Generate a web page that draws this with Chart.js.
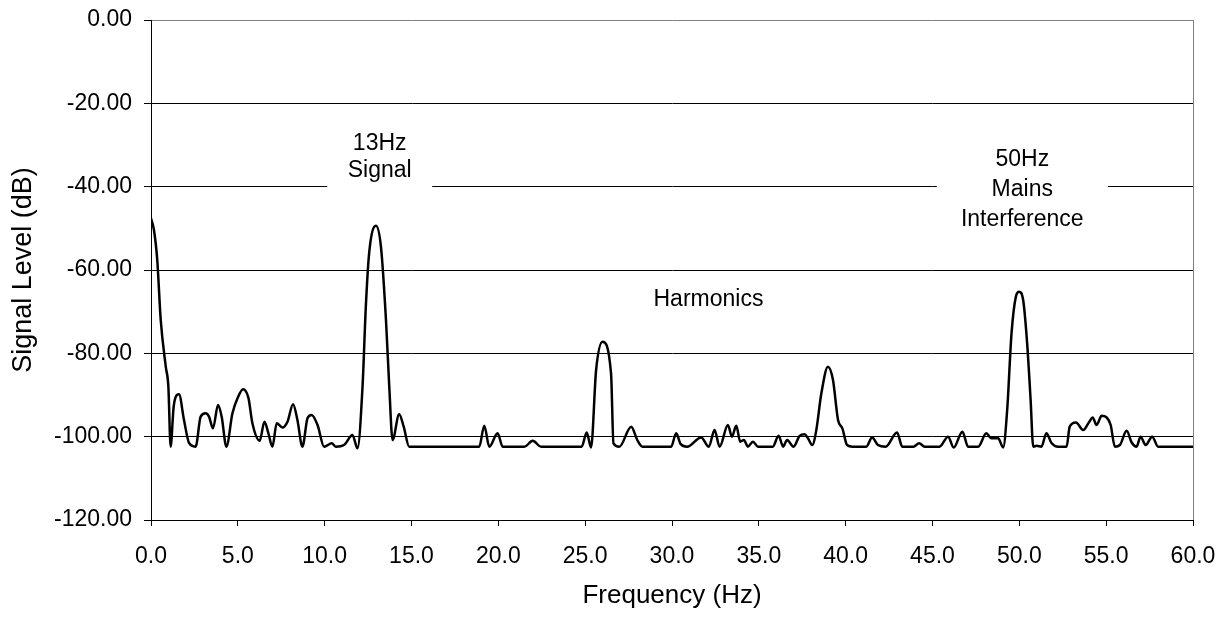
<!DOCTYPE html>
<html>
<head>
<meta charset="utf-8">
<script src="https://cdn.jsdelivr.net/npm/chart.js@4.4.0/dist/chart.umd.min.js"></script>
<style>
    body { margin: 0; background: #fff; }
    #container-grafico { width: 1231px; height: 619px; }
</style>
</head>
<body>
<div id="container-grafico"><canvas id="espectro" width="1231" height="619"></canvas></div>
<script>
// valores (Hz / dB)
var frequencias = [
    0.00, 0.17, 0.36, 0.56, 0.85, 1.00, 1.13, 1.30, 1.45, 1.61, 1.90, 2.19, 2.57, 2.86, 3.15, 3.34,
    3.57, 3.86, 4.07, 4.34, 4.69, 4.98, 5.30, 5.61, 5.84, 6.26, 6.53, 6.76, 6.99, 7.24, 7.57, 7.86,
    8.18, 8.43, 8.72, 9.01, 9.25, 9.59, 9.97, 10.41, 10.64, 11.12, 11.60, 11.89, 12.18, 12.37, 12.56,
    12.95, 13.24, 13.53, 13.72, 13.91, 14.29, 14.55, 14.87, 18.90, 19.19, 19.48, 19.96, 20.25, 21.50,
    21.98, 22.46, 24.80, 25.09, 25.34, 25.63, 26.00, 26.49, 26.63, 26.97, 27.65, 28.00, 28.30, 29.95,
    30.24, 30.50, 30.87, 31.68, 32.12, 32.45, 32.74, 33.22, 33.45, 33.70, 33.93, 34.14, 34.37, 34.66,
    34.95, 35.80, 36.14, 36.40, 36.63, 37.00, 37.35, 37.64, 37.83, 38.08, 38.31, 38.60, 38.98, 39.27,
    39.56, 39.81, 40.08, 40.40, 41.19, 41.52, 41.86, 42.30, 42.96, 43.26, 43.90, 44.23, 44.55, 45.40,
    45.90, 46.22, 46.72, 47.05, 47.63, 48.10, 48.39, 48.78, 49.07, 49.30, 49.55, 49.80, 49.99, 50.22,
    50.45, 50.65, 50.80, 51.00, 51.27, 51.56, 51.85, 52.24, 52.72, 52.90, 53.26, 53.68, 54.03, 54.22,
    54.45, 54.74, 55.03, 55.26, 55.50, 55.79, 56.18, 56.47, 56.75, 56.98, 57.27, 57.65, 57.99, 60.00
];
var niveis = [
    -47.6, -50.4, -57.6, -72.0, -83.2, -88.0, -102.4, -93.0, -90.2, -89.8, -96.0, -101.5, -102.4, -95.2, -94.4, -95.2,
    -98.0, -92.4, -95.2, -102.4, -94.4, -90.8, -88.6, -90.7, -96.8, -101.0, -96.4, -99.2, -102.4, -96.8, -97.8, -96.4,
    -92.2, -96.0, -102.4, -95.6, -94.8, -97.2, -102.4, -101.6, -102.4, -102.0, -99.6, -102.8, -88.0, -68.8, -56.0,
    -49.4, -54.4, -72.0, -88.0, -100.8, -94.6, -97.6, -102.4, -102.4, -97.4, -102.4, -99.2, -102.4, -102.4,
    -101.0, -102.4, -102.4, -99.0, -102.6, -84.0, -77.2, -84.8, -101.6, -102.4, -97.6, -100.8, -102.4, -102.4,
    -99.2, -101.8, -102.4, -100.2, -102.4, -98.4, -102.4, -97.2, -100.0, -97.4, -101.2, -100.8, -102.4, -101.2,
    -102.4, -102.4, -99.8, -102.4, -100.8, -102.4, -99.8, -99.4, -100.4, -102.0, -98.4, -89.6, -83.2, -86.4,
    -96.0, -98.0, -102.0, -102.4, -102.4, -100.2, -102.0, -102.4, -99.0, -102.4, -102.4, -101.6, -102.4, -102.4,
    -100.0, -102.6, -98.8, -102.4, -102.4, -99.2, -100.4, -100.4, -102.6, -93.6, -75.2, -66.4, -65.2, -67.2,
    -77.6, -91.2, -102.4, -102.2, -102.4, -99.2, -101.5, -102.4, -102.4, -97.6, -96.6, -98.4, -96.4, -95.4,
    -97.2, -95.0, -95.4, -97.2, -102.4, -102.0, -98.6, -101.4, -102.4, -100.0, -102.0, -100.0, -102.4, -102.4
];
var rotulosX = ['0.0', '5.0', '10.0', '15.0', '20.0', '25.0', '30.0', '35.0', '40.0', '45.0', '50.0', '55.0', '60.0'];
var rotulosY = ['-120.00', '-100.00', '-80.00', '-60.00', '-40.00', '-20.00', '0.00'];
var textoSinal = ['13Hz', 'Signal'];
var textoHarmonicos = ['Harmonics'];
var textoRede = ['50Hz', 'Mains', 'Interference'];

var fonte = '"Liberation Sans", Arial, sans-serif';

// caixas de texto brancas por cima das linhas de grade + borda direita cinza
var pluginAnotacoes = {
    id: 'anotacoes',
    beforeDatasetsDraw: function (chart, args, opcoes) {
        var ctx = chart.ctx;
        var area = chart.chartArea;
        var escalaX = chart.scales.x;
        var escalaY = chart.scales.y;
        ctx.save();
        ctx.strokeStyle = '#808080';
        ctx.lineWidth = 1;
        ctx.beginPath();
        ctx.moveTo(Math.round(area.right) + 0.5, area.top);
        ctx.lineTo(Math.round(area.right) + 0.5, area.bottom);
        ctx.stroke();

        ctx.font = '23px ' + fonte;
        ctx.textAlign = 'center';
        ctx.textBaseline = 'middle';
        opcoes.caixas.forEach(function (c) {
            var cx = escalaX.getPixelForValue(c.hz);
            var cy = escalaY.getPixelForValue(c.db);
            ctx.fillStyle = '#fff';
            ctx.fillRect(cx - c.largura / 2, cy - c.altura / 2, c.largura, c.altura);
            ctx.fillStyle = '#000';
            var inicio = cy - (c.linhas.length - 1) * c.espaco / 2;
            c.linhas.forEach(function (t, i) {
                ctx.fillText(t, cx, inicio + i * c.espaco);
            });
        });
        ctx.restore();
    }
};

var pontos = frequencias.map(function (f, i) {
    return { x: f, y: niveis[i] };
});

var ctx = document.getElementById('espectro').getContext('2d');
var graficoEspectro = new Chart(ctx, {
    type: 'line',
    data: {
        datasets: [{
            data: pontos,
            borderColor: '#000',
            borderWidth: 2.5,
            pointRadius: 0,
            fill: false,
            cubicInterpolationMode: 'monotone'
        }]
    },
    options: {
        responsive: false,
        animation: false,
        layout: { padding: { top: 20, right: 38, left: 0, bottom: 0 } },
        plugins: {
            legend: { display: false },
            tooltip: { enabled: false },
            anotacoes: {
                caixas: [
                    { linhas: textoSinal, hz: 13.17, db: -32.8, largura: 105, altura: 70, espaco: 27 },
                    { linhas: textoHarmonicos, hz: 32.1, db: -67.2, largura: 122, altura: 30, espaco: 29 },
                    { linhas: textoRede, hz: 50.17, db: -40.7, largura: 171, altura: 96, espaco: 30 }
                ]
            }
        },
        scales: {
            x: {
                type: 'linear',
                min: 0,
                max: 60,
                ticks: {
                    stepSize: 5,
                    autoSkip: false,
                    maxRotation: 0,
                    padding: 17,
                    color: '#000',
                    font: { family: fonte, size: 23 },
                    callback: function (valor, i) { return rotulosX[i]; }
                },
                grid: { drawOnChartArea: false, drawTicks: true, tickLength: 6, color: '#000' },
                border: { color: '#000', width: 1 },
                title: {
                    display: true,
                    text: 'Frequency (Hz)',
                    color: '#000',
                    font: { family: fonte, size: 26 },
                    padding: { top: 0, bottom: 8 }
                },
                afterFit: function (escala) {
                    escala.height = 99;
                    escala.paddingLeft = 0;
                    escala.paddingRight = 0;
                }
            },
            y: {
                min: -120,
                max: 0,
                ticks: {
                    stepSize: 20,
                    padding: 12,
                    color: '#000',
                    font: { family: fonte, size: 23 },
                    callback: function (valor, i) { return rotulosY[i]; }
                },
                grid: {
                    color: function (c) {
                        return c.tick && c.tick.value === 0 ? '#808080' : '#000';
                    },
                    tickColor: '#000',
                    tickLength: 7
                },
                border: { color: '#000', width: 1 },
                title: {
                    display: true,
                    text: 'Signal Level (dB)',
                    color: '#000',
                    font: { family: fonte, size: 27 },
                    padding: { top: 7, bottom: 0 }
                },
                afterFit: function (escala) {
                    escala.width = 151;
                    escala.paddingTop = 0;
                    escala.paddingBottom = 0;
                }
            }
        }
    },
    plugins: [pluginAnotacoes]
});
</script>
</body>
</html>
